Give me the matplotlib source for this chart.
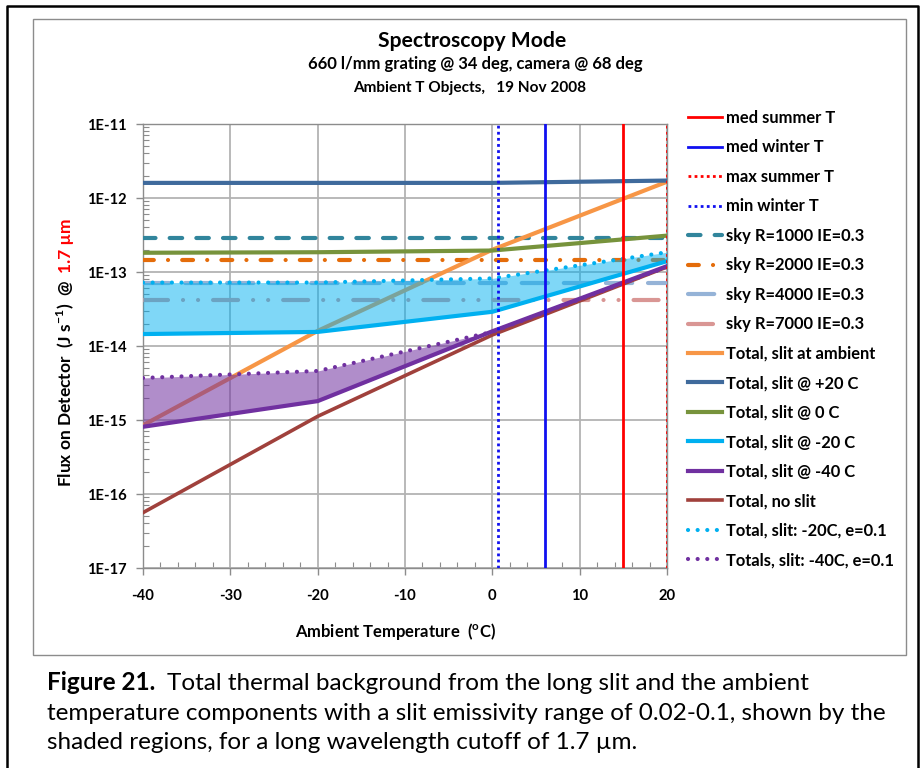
import matplotlib
matplotlib.use('Agg')
import matplotlib.pyplot as plt
from matplotlib.lines import Line2D

plt.rcParams['font.family'] = ['Lato', 'DejaVu Sans']
plt.rcParams['mathtext.fontset'] = 'custom'
plt.rcParams['mathtext.rm'] = 'Lato'
plt.rcParams['mathtext.bf'] = 'Lato:bold'
plt.rcParams['axes.unicode_minus'] = False

# ---------------- data ----------------
temps = [-40, -20, 0, 20]
total_ambient = [8.5e-16, 1.6e-14, 2.0e-13, 1.66e-12]
total_p20 = [1.6e-12, 1.6e-12, 1.6e-12, 1.72e-12]
total_0 = [1.82e-13, 1.85e-13, 1.95e-13, 3.1e-13]
total_m20 = [1.45e-14, 1.55e-14, 2.9e-14, 1.4e-13]
total_m40 = [8.1e-16, 1.8e-15, 1.58e-14, 1.2e-13]
total_noslit = [5.6e-17, 1.12e-15, 1.41e-14, 1.17e-13]
total_m20_e01 = [7.2e-14, 7.2e-14, 8.2e-14, 1.85e-13]
total_m40_e01 = [3.7e-15, 4.6e-15, 1.55e-14, 1.17e-13]

sky_x = [-40, 20]
sky_r1000 = [2.9e-13, 2.9e-13]
sky_r2000 = [1.45e-13, 1.45e-13]
sky_r4000 = [7.2e-14, 7.2e-14]
sky_r7000 = [4.2e-14, 4.2e-14]

med_summer_T = [15, 15]
med_winter_T = [6, 6]
max_summer_T = [20, 20]
min_winter_T = [0.6, 0.6]
vline_flux = [1e-17, 1e-11]

x_ticks = [-40, -30, -20, -10, 0, 10, 20]
y_ticks = [1e-17, 1e-16, 1e-15, 1e-14, 1e-13, 1e-12, 1e-11]
y_ticklabels = ['1E-17', '1E-16', '1E-15', '1E-14', '1E-13', '1E-12', '1E-11']

W, H = 922, 768
fig = plt.figure(figsize=(W / 100, H / 100), dpi=100)

def fx(px):
    return px / W

def fy(py):
    return 1 - py / H

# frames
fig.add_artist(Line2D([fx(7), fx(7), fx(918), fx(918)], [0, fy(6), fy(6), 0],
                      color='black', lw=1.8, transform=fig.transFigure))
fig.add_artist(plt.Rectangle((fx(33), fy(655)), fx(906) - fx(33), fy(19) - fy(655),
                             fill=False, ec='#8c8c8c', lw=1.0, transform=fig.transFigure))

ax = fig.add_axes([fx(143), fy(568), fx(667) - fx(143), fy(124) - fy(568)])
ax.set_yscale('log')
ax.set_xlim(-40, 20)
ax.set_ylim(1e-17, 1e-11)

lw = 3.0
# verticals
ax.plot(med_summer_T, vline_flux, color='#FF0000', lw=2.0, label='med summer T', zorder=10)
ax.plot(med_winter_T, vline_flux, color='#1010F0', lw=2.0, label='med winter T', zorder=10)
ax.plot(max_summer_T, vline_flux, color='#FF0000', lw=2.0, ls=(0, (1, 1.2)), label='max summer T', zorder=10)
ax.plot(min_winter_T, vline_flux, color='#1010F0', lw=2.0, ls=(0, (1, 1.2)), label='min winter T', zorder=10)

# sky
ax.plot(sky_x, sky_r1000, color='#31859C', lw=lw, ls=(0, (3.0, 3.4)), dash_capstyle='round',
        label='sky R=1000 IE=0.3', zorder=3)
ax.plot(sky_x, sky_r2000, color='#E46C0A', lw=lw, ls=(0, (2.6, 3.4, 0.01, 3.4)), dash_capstyle='round',
        label='sky R=2000 IE=0.3', zorder=3)
ax.plot(sky_x, sky_r4000, color='#95B3D7', lw=lw, ls=(0, (6.3, 3.8)), dash_capstyle='round',
        label='sky R=4000 IE=0.3', zorder=3)
ax.plot(sky_x, sky_r7000, color='#D99694', lw=lw, ls=(0, (6.0, 3.6, 0.01, 3.6, 0.01, 3.6)), dash_capstyle='round',
        label='sky R=7000 IE=0.3', zorder=3)

# totals
ax.plot(temps, total_ambient, color='#F79646', lw=lw, label='Total, slit at ambient', zorder=3)
ax.plot(temps, total_p20, color='#3F6A9C', lw=lw, label='Total, slit @ +20 C', zorder=6)
ax.plot(temps, total_0, color='#77933C', lw=lw, label='Total, slit @ 0 C', zorder=6)
ax.plot(temps, total_m20, color='#00B0F0', lw=lw, label='Total, slit @ -20 C', zorder=6)
ax.plot(temps, total_m40, color='#7030A0', lw=lw, label='Total, slit @ -40 C', zorder=6)
ax.plot(temps, total_noslit, color='#A0413C', lw=2.6, label='Total, no slit', zorder=5)
ax.plot(temps, total_m20_e01, color='#00B0F0', lw=lw, ls=(0, (0.01, 2.3)), dash_capstyle='round',
        label='Total, slit: -20C, e=0.1', zorder=6)
ax.plot(temps, total_m40_e01, color='#7030A0', lw=lw, ls=(0, (0.01, 2.3)), dash_capstyle='round',
        label='Totals, slit: -40C, e=0.1', zorder=6)

ax.fill_between(temps, total_m20, total_m20_e01, color='#00B0F0', alpha=0.5, lw=0, zorder=4)
ax.fill_between(temps, total_m40, total_m40_e01, color='#7030A0', alpha=0.55, lw=0, zorder=4)

# axes styling
ax.set_xticks(x_ticks)
ax.set_xticks(range(-40, 21, 2), minor=True)
ax.set_yticks(y_ticks)
ax.set_yticklabels(y_ticklabels)
ax.grid(True, which='major', color='#B3B3B3', lw=1.3, zorder=0)
ax.set_axisbelow(True)
for s in ax.spines.values():
    s.set_color('#8c8c8c')
    s.set_linewidth(1.0)
ax.tick_params(which='major', direction='out', length=5, color='#8c8c8c', width=1.0,
               labelsize=10.6, pad=7)
ax.tick_params(which='minor', direction='in', length=4, color='#8c8c8c', width=0.8)
ax.tick_params(axis='x', which='major', pad=10)
for lab in ax.get_xticklabels() + ax.get_yticklabels():
    lab.set_fontweight('bold')

# titles
fig.text(fx(472), fy(41), 'Spectroscopy Mode', ha='center', va='center', fontsize=15.2, fontweight='bold')
fig.text(fx(475), fy(64), '660 l/mm grating @ 34 deg, camera @ 68 deg', ha='center', va='center',
         fontsize=12, fontweight='bold')
fig.text(fx(470), fy(88), 'Ambient T Objects,   19 Nov 2008', ha='center', va='center',
         fontsize=11.1, fontweight='bold')

# x label
fig.text(fx(395), fy(631), r'Ambient Temperature  (${}^{\mathbf{o}}$C)', ha='center', va='center',
         fontsize=12, fontweight='bold')

# legend
handles, labels = ax.get_legend_handles_labels()
fig.legend(handles, labels, loc='upper left', bbox_to_anchor=(fx(688), fy(110)), frameon=False,
           prop={'weight': 'bold', 'size': 11.9}, handlelength=2.05, handletextpad=0.25,
           labelspacing=0.815, borderaxespad=0, borderpad=0)

fig.canvas.draw()
renderer = fig.canvas.get_renderer()

# y label (two colours)
t1 = fig.text(fx(71), fy(487), r'Flux on Detector  (J s$^{\mathbf{-1}}$)  @', rotation=90,
              rotation_mode='anchor', ha='left', va='baseline', fontsize=12.5, fontweight='bold')
bb = t1.get_window_extent(renderer)
fig.text(fx(71), (bb.y1 + 7) / H, '1.7 µm', rotation=90, rotation_mode='anchor', ha='left',
         va='baseline', fontsize=12.5, fontweight='bold', color='#FF0000')

# caption
cap_fs = 17.5
base_y = [690, 720, 749]
c1 = fig.text(fx(47), fy(base_y[0]), 'Figure 21.', ha='left', va='baseline', fontsize=cap_fs,
              fontweight='bold')
bb = c1.get_window_extent(renderer)
fig.text((bb.x1 + 12) / W, fy(base_y[0]), 'Total thermal background from the long slit and the ambient',
         ha='left', va='baseline', fontsize=cap_fs)
fig.text(fx(47), fy(base_y[1]),
         'temperature components with a slit emissivity range of 0.02-0.1, shown by the',
         ha='left', va='baseline', fontsize=cap_fs)
fig.text(fx(47), fy(base_y[2]), 'shaded regions, for a long wavelength cutoff of 1.7 µm.',
         ha='left', va='baseline', fontsize=cap_fs)

fig.savefig('out.png', dpi=100)
